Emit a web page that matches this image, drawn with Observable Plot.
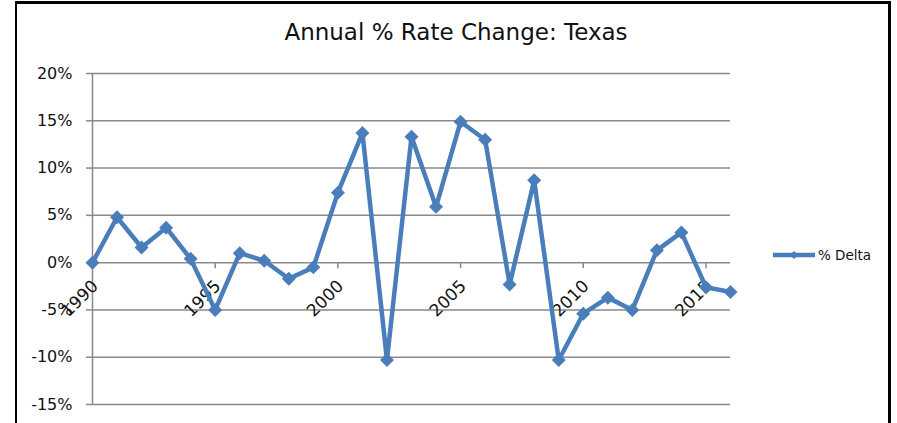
<!DOCTYPE html>
<html>
<head>
<meta charset="utf-8">
<script src="https://cdn.jsdelivr.net/npm/d3@7"></script>
<script src="https://cdn.jsdelivr.net/npm/@observablehq/plot@0.6"></script>
<style>
  html, body { margin: 0; padding: 0; background: #fff; }
  #wrap { position: relative; width: 897px; height: 423px; overflow: hidden; font-family: "DejaVu Sans", sans-serif; }
  #frame { position: absolute; left: 15px; top: 1px; width: 876px; height: 440px; border-left: 2px solid #000; border-top: 3px solid #000; border-right: 3px solid #000; box-sizing: border-box; }
  #title { position: absolute; left: 0; width: 912px; top: 19px; text-align: center; font-size: 23px; color: #111; }
  #legend { position: absolute; left: 773px; top: 247px; display: flex; align-items: center; font-size: 13.5px; color: #111; }
  #chart { position: absolute; left: 0; top: 0; }
</style>
</head>
<body>
<div id="wrap">
  <div id="chart"></div>
  <div id="frame"></div>
  <div id="title">Annual % Rate Change: Texas</div>
  <div id="legend">
    <svg width="44" height="16"><line x1="0" y1="8" x2="42" y2="8" stroke="#4A7EBB" stroke-width="4.5"/><path d="M21,4 L25,8 L21,12 L17,8 Z" fill="#4A7EBB"/></svg>
    <span style="margin-left:1px">% Delta</span>
  </div>
</div>
<script>
const years = [1990,1991,1992,1993,1994,1995,1996,1997,1998,1999,2000,2001,2002,2003,2004,2005,2006,2007,2008,2009,2010,2011,2012,2013,2014,2015,2016];
const delta = [0, 4.8, 1.6, 3.7, 0.4, -5.0, 1.0, 0.2, -1.7, -0.5, 7.4, 13.7, -10.3, 13.3, 5.9, 14.9, 13.0, -2.3, 8.7, -10.3, -5.4, -3.7, -5.0, 1.3, 3.2, -2.6, -3.1];
const yTicks = [-15, -10, -5, 0, 5, 10, 15, 20];
const xTicks = [1990, 1995, 2000, 2005, 2010, 2015];
const xTickMarks = [1995, 2000, 2005, 2010, 2015];

const data = years.map((y, i) => ({year: y, value: delta[i]}));
const gridColor = "#898989";
const lineColor = "#4A7EBB";

const chart = Plot.plot({
  width: 897,
  height: 423,
  marginLeft: 92,
  marginRight: 167,
  marginTop: 73,
  marginBottom: 19,
  style: {fontFamily: "DejaVu Sans, sans-serif", background: "transparent", overflow: "visible"},
  x: {type: "linear", domain: [1990, 2016], axis: null},
  y: {type: "linear", domain: [-15, 20], axis: null},
  marks: [
    Plot.ruleY(yTicks, {y: d => d, stroke: gridColor, strokeWidth: 1.5, strokeOpacity: 1}),
    Plot.ruleY(yTicks, {y: d => d, x1: () => 1990, x2: () => 1990, insetLeft: -6, stroke: gridColor, strokeWidth: 1.5}),
    Plot.ruleX([1990], {x: d => d, y1: () => -15, y2: () => 20, stroke: gridColor, strokeWidth: 1.5}),
    Plot.text(yTicks, {x: () => 1990, y: d => d, text: d => d + "%", textAnchor: "end", dx: -20, fontSize: 16, fill: "#111"}),
    Plot.ruleX(xTickMarks, {x: d => d, y1: () => 0, y2: () => 0, insetBottom: -6, stroke: gridColor, strokeWidth: 1.5}),
    Plot.text(xTicks, {x: d => d, y: () => 0, text: d => String(d), rotate: -45, textAnchor: "end", lineAnchor: "top", dx: -2, dy: 16, fontSize: 17, fill: "#111"}),
    Plot.line(data, {x: "year", y: "value", stroke: lineColor, strokeWidth: 4.5, strokeLinejoin: "miter"}),
    Plot.dot(data, {x: "year", y: "value", symbol: "diamond2", r: 6.3, fill: lineColor, stroke: "none"})
  ]
});
document.getElementById("chart").appendChild(chart);
</script>
</body>
</html>
